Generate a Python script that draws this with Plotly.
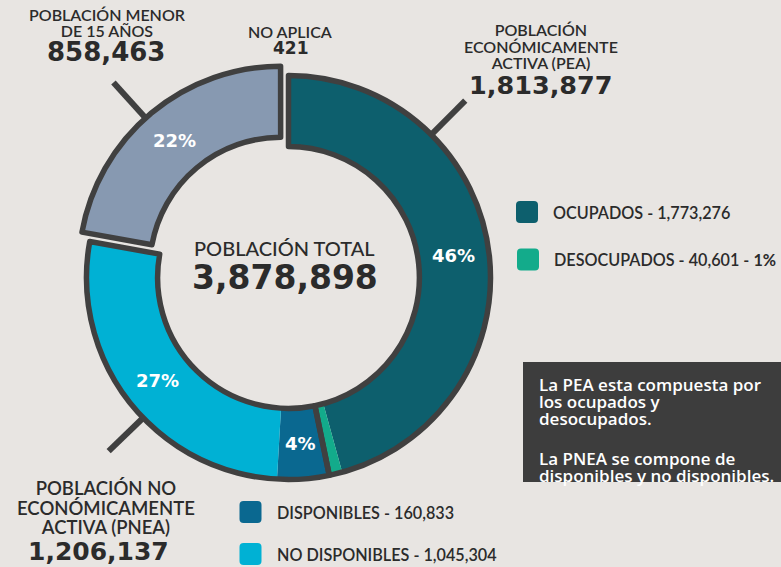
import math
import plotly.graph_objects as go

# ---------------- data ----------------
detail_labels = ["Ocupados", "Desocupados", "Disponibles", "No disponibles",
                 "Población menor de 15 años", "No aplica"]
detail_values = [1773276, 40601, 160833, 1045304, 858463, 421]
detail_colors = ["#0d5f6d", "#13ab8b", "#0a6890", "#00b1d4", "#8799b1", "#8799b1"]
detail_show_pct = [True, False, True, True, True, False]

group_labels = ["PEA", "PNEA", "Menor de 15 años", "No aplica"]
group_values = [1813877, 1206137, 858463, 421]

total_value = 3878898

legend_texts = ["OCUPADOS - 1,773,276", "DESOCUPADOS - 40,601 - <b>1%</b>",
                "DISPONIBLES - 160,833", "NO DISPONIBLES - 1,045,304"]

info_par1 = ["La PEA esta compuesta por", "los ocupados y", "desocupados."]
info_par2 = ["La PNEA se compone de", "disponibles y no disponibles."]

# ---------------- style / geometry ----------------
W, H = 781, 567
BG = "#e8e5e2"
DARK = "#404040"
TXT = "#2b2b2b"
CX, CY = 288.5, 277.5      # pie centre (px)
R = 202.0                   # pie radius (px)
PULL = 0.06
HOLE = 0.648
LINE_W = 5.5
detail_pull = [0, 0, 0, 0, PULL, 0]
group_pull = [0, 0, PULL, 0]


def px(x):
    return x / W


def py(y):
    return 1 - y / H


half = R * (1 + PULL)
domain = dict(x=[px(CX - half), px(CX + half)], y=[py(CY + half), py(CY - half)])

fig = go.Figure()

fig.add_trace(go.Pie(
    labels=detail_labels, values=detail_values, sort=False, direction="clockwise",
    rotation=0, hole=HOLE, domain=domain, pull=detail_pull,
    marker=dict(colors=detail_colors, line=dict(width=0)),
    textinfo="none", showlegend=False, hoverinfo="label+value+percent",
))

fig.add_trace(go.Pie(
    labels=group_labels, values=group_values, sort=False, direction="clockwise",
    rotation=0, hole=HOLE, domain=domain, pull=group_pull,
    marker=dict(colors=["rgba(0,0,0,0)"] * 4,
                line=dict(color=[DARK, DARK, DARK, "rgba(0,0,0,0)"], width=LINE_W)),
    textinfo="none", showlegend=False, hoverinfo="skip",
))

shapes = []
annotations = []


def add_text(t, x, y, size, family="Lato", weight=600, color=TXT, anchor="center"):
    annotations.append(dict(x=px(x), y=py(y), xref="paper", yref="paper", text=t,
                            showarrow=False, xanchor=anchor, yanchor="middle",
                            borderpad=0,
                            font=dict(family=family, size=size, color=color, weight=weight)))


def add_block(lines, x, y, size, spacing, family="Lato", weight=600, color=TXT,
              anchor="center"):
    # line spacing is 1.3 x the base font size; the glyphs use `size`
    base = spacing / 1.3
    t = "<br>".join(f'<span style="font-size:{size}px">{ln}</span>' for ln in lines)
    annotations.append(dict(x=px(x), y=py(y), xref="paper", yref="paper", text=t,
                            showarrow=False, xanchor=anchor, yanchor="middle",
                            align=anchor, borderpad=0,
                            font=dict(family=family, size=base, color=color, weight=weight)))


# percentage labels placed at the middle of each ring sector
ring_mid = R * (1 + HOLE) / 2
cum = 0
for v, show, pl in zip(detail_values, detail_show_pct, detail_pull):
    mid = math.radians((cum + v / 2) / total_value * 360)
    cum += v
    if not show:
        continue
    rr = ring_mid + pl * R
    add_text(f"{round(v / total_value * 100)}%",
             CX + rr * math.sin(mid), CY - rr * math.cos(mid),
             18, "DejaVu Sans", 700, "white")

# radial tick lines pointing to group labels
tick_angles = [45, 226, 318]
tick_pulled = [False, False, True]
group_mid = (total_value - group_values[2] / 2 - group_values[3]) / total_value * 360
for ang, pulled in zip(tick_angles, tick_pulled):
    ox, oy = CX, CY
    if pulled:
        m = math.radians(group_mid)
        ox += math.sin(m) * R * PULL
        oy -= math.cos(m) * R * PULL
    a = math.radians(ang)
    r0, r1 = R + 1, R + 48
    shapes.append(dict(type="line", xref="paper", yref="paper",
                       x0=px(ox + r0 * math.sin(a)), y0=py(oy - r0 * math.cos(a)),
                       x1=px(ox + r1 * math.sin(a)), y1=py(oy - r1 * math.cos(a)),
                       line=dict(color=DARK, width=6), layer="below"))


def rounded_square(cx, cy, s, r, color):
    x0, x1, y0, y1 = cx - s / 2, cx + s / 2, cy - s / 2, cy + s / 2
    pts = (f"M {px(x0 + r)},{py(y0)} L {px(x1 - r)},{py(y0)} "
           f"Q {px(x1)},{py(y0)} {px(x1)},{py(y0 + r)} L {px(x1)},{py(y1 - r)} "
           f"Q {px(x1)},{py(y1)} {px(x1 - r)},{py(y1)} L {px(x0 + r)},{py(y1)} "
           f"Q {px(x0)},{py(y1)} {px(x0)},{py(y1 - r)} L {px(x0)},{py(y0 + r)} "
           f"Q {px(x0)},{py(y0)} {px(x0 + r)},{py(y0)} Z")
    return dict(type="path", path=pts, xref="paper", yref="paper",
                fillcolor=color, line=dict(width=0))


legend_pos = [(527, 212), (528, 259.5), (250.5, 512), (250.5, 554)]
legend_cols = [detail_colors[0], detail_colors[1], detail_colors[2], detail_colors[3]]
for (lx, ly), col, t in zip(legend_pos, legend_cols, legend_texts):
    shapes.append(rounded_square(lx, ly, 22, 4, col))
    add_text(t, lx + 25, ly, 16.2, anchor="left")

# info box
shapes.append(dict(type="rect", xref="paper", yref="paper",
                   x0=px(523), x1=px(790), y0=py(482), y1=py(362),
                   fillcolor="#3d3d3d", line=dict(width=0), layer="below"))
add_block(info_par1, 538, 401, 17, 17, "Open Sans", 600, "white", "left")
add_block(info_par2, 538, 466.5, 17, 17, "Open Sans", 600, "white", "left")

NUM = "DejaVu Sans"
# menor de 15
add_block(["POBLACIÓN MENOR", "DE 15 AÑOS"], 107, 22, 16, 16)
add_text(f"{group_values[2]:,}", 106, 52, 26, NUM, 700)
# no aplica
add_text("NO APLICA", 290.5, 31.5, 16)
add_text(f"{group_values[3]:,}", 290.5, 48, 17, NUM, 700)
# PEA
add_block(["POBLACIÓN", "ECONÓMICAMENTE", "ACTIVA (PEA)"], 540.5, 45.5, 16, 16.5)
add_text(f"{group_values[0]:,}", 541, 85, 25.5, NUM, 700)
# PNEA
add_block(["POBLACIÓN NO", "ECONÓMICAMENTE", "ACTIVA (PNEA)"], 106, 508, 18.5, 19.75)
add_text(f"{group_values[1]:,}", 98, 551.5, 25, NUM, 700)
# centre
add_text("POBLACIÓN TOTAL", 284, 248.5, 20, "Lato", 500)
add_text(f"{total_value:,}", 285, 277.5, 33, NUM, 700)

fig.update_layout(
    width=W, height=H, margin=dict(l=0, r=0, t=0, b=0),
    paper_bgcolor=BG, plot_bgcolor=BG,
    shapes=shapes, annotations=annotations,
    showlegend=False,
)

fig.write_html("out.html", config={"displayModeBar": False},
               post_script="document.body.style.margin='0px';"
                           "document.body.style.overflow='hidden';"
                           "document.body.style.background='" + BG + "';")
